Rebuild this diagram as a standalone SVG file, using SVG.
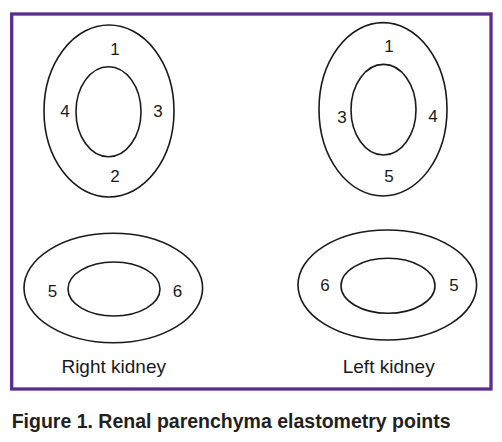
<svg xmlns="http://www.w3.org/2000/svg" width="502" height="442" viewBox="0 0 502 442">
<style>
.e{fill:none;stroke:#1a1a1a;stroke-width:1.6}
.n{font-family:"Liberation Sans",Arial,sans-serif;font-size:17px;fill:#1a1a1a;text-anchor:middle}
.l{font-family:"Liberation Sans",Arial,sans-serif;font-size:19px;fill:#1a1a1a;text-anchor:middle}
.c{font-family:"Liberation Sans",Arial,sans-serif;font-size:19.5px;font-weight:bold;fill:#231f20}
</style>
<rect x="11.7" y="14" width="479.3" height="375" fill="#fff" stroke="#5a2d8c" stroke-width="3.3"/>
<g id="right-kidney-long">
<ellipse class="e" cx="109" cy="111" rx="65" ry="86"/>
<ellipse class="e" cx="108.5" cy="111.7" rx="32.5" ry="45"/>
<text class="n" x="115" y="55">1</text>
<text class="n" x="65" y="117">4</text>
<text class="n" x="158" y="117">3</text>
<text class="n" x="115" y="182">2</text>
</g>
<g id="left-kidney-long">
<ellipse class="e" cx="383" cy="109.3" rx="64" ry="86.7"/>
<ellipse class="e" cx="383.5" cy="109.7" rx="32.5" ry="45.3"/>
<text class="n" x="389" y="52">1</text>
<text class="n" x="342" y="123">3</text>
<text class="n" x="433" y="122">4</text>
<text class="n" x="389" y="182">5</text>
</g>
<g id="right-kidney-cross">
<ellipse class="e" cx="113.3" cy="288" rx="89.3" ry="54.7"/>
<ellipse class="e" cx="114" cy="289" rx="46" ry="27"/>
<text class="n" x="52.5" y="297">5</text>
<text class="n" x="177.5" y="297">6</text>
<text class="l" x="113.7" y="373">Right kidney</text>
</g>
<g id="left-kidney-cross">
<ellipse class="e" cx="387.3" cy="285" rx="89.3" ry="55"/>
<ellipse class="e" cx="388" cy="285.8" rx="47" ry="27.5"/>
<text class="n" x="325" y="291">6</text>
<text class="n" x="454" y="291">5</text>
<text class="l" x="388.7" y="373">Left kidney</text>
</g>
<g id="connectors"/>
<text class="c" x="11.7" y="428">Figure 1. Renal parenchyma elastometry points</text>
</svg>
